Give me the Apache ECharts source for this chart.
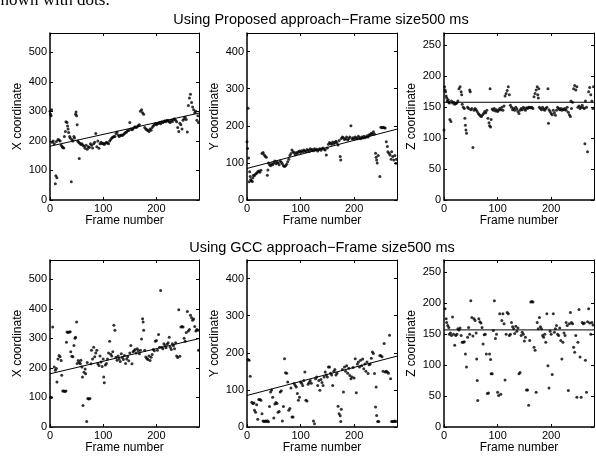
<!DOCTYPE html>
<html>
<head>
<meta charset="utf-8">
<script src="https://cdn.jsdelivr.net/npm/echarts@6/dist/echarts.min.js"></script>
<style>
html,body{margin:0;padding:0;background:#fff;}
#chart{width:596px;height:457px;}
</style>
</head>
<body>
<div id="chart"></div>
<script>
// ---------- data ----------
const titleTop = "Using Proposed approach\u2212Frame size500 ms";
const titleBottom = "Using GCC approach\u2212Frame size500 ms";
const yNames = ["X coordinate", "Y coordinate", "Z coordinate"];
const xName = "Frame number";
const frameMax = 280;
const frameStep = 100;
const yMaxes = [565, 450, 270];
const ySteps = [100, 100, 50];

// Proposed approach: [frame, value]
const propX = [[0,300],[1,290],[2,285],[3,305],[4,195],[6,200],[8,190],[10,55],[11,82],[13,75],[12,198],[15,205],[17,203],[19,200],[21,185],[23,180],[24,178],[26,176],[27,215],[29,232],[30,265],[32,262],[33,250],[34,240],[35,228],[37,215],[38,210],[40,62],[41,205],[43,200],[45,215],[46,210],[48,290],[49,298],[50,285],[51,255],[52,200],[54,195],[55,140],[56,192],[58,188],[60,190],[62,185],[64,182],[66,175],[68,185],[70,172],[72,180],[74,178],[76,190],[78,185],[80,176],[82,190],[84,195],[86,225],[88,180],[90,200],[92,175],[94,190],[96,195],[98,190],[100,192],[102,188],[104,192],[106,195],[108,193],[110,190],[112,200],[114,205],[116,210],[118,212],[120,215],[122,215],[124,225],[126,230],[128,220],[130,215],[132,218],[134,220],[136,218],[138,222],[140,225],[142,228],[144,230],[146,235],[148,235],[150,262],[152,240],[154,238],[156,240],[158,245],[160,248],[162,245],[164,248],[166,252],[168,255],[170,300],[172,305],[174,295],[176,290],[178,245],[180,240],[182,238],[184,235],[186,232],[188,240],[190,236],[192,245],[194,250],[196,255],[198,258],[200,255],[202,258],[204,260],[206,262],[208,258],[210,265],[212,262],[214,265],[216,268],[218,265],[220,270],[222,268],[224,265],[226,262],[228,270],[230,266],[232,272],[234,275],[236,270],[238,265],[240,245],[242,232],[244,260],[246,255],[248,240],[250,270],[252,275],[254,280],[256,272],[258,230],[260,320],[262,345],[264,358],[266,330],[268,315],[270,305],[272,295],[274,300],[276,270],[278,285],[279,262]];
const propY = [[0,157],[1,139],[2,247],[3,113],[4,49],[5,76],[6,63],[7,55],[8,52],[10,50],[11,60],[12,67],[14,66],[16,70],[18,72],[20,76],[22,78],[24,75],[26,80],[28,125],[30,128],[32,122],[34,118],[36,115],[38,67],[39,81],[40,100],[42,95],[44,92],[46,98],[48,95],[50,100],[52,105],[54,98],[56,102],[58,100],[60,95],[62,105],[64,102],[66,98],[68,92],[70,90],[72,92],[74,96],[76,103],[78,110],[80,120],[82,125],[84,135],[86,130],[88,127],[90,122],[92,128],[94,125],[96,130],[98,132],[100,128],[102,133],[104,130],[106,135],[108,132],[110,130],[112,136],[114,134],[116,131],[118,138],[120,135],[122,136],[124,133],[126,138],[128,135],[130,137],[132,132],[134,136],[136,138],[138,134],[140,138],[142,140],[144,137],[146,135],[148,121],[150,140],[152,150],[154,155],[156,152],[158,150],[160,156],[162,152],[164,155],[166,158],[168,154],[170,148],[172,160],[174,117],[175,108],[176,166],[178,170],[180,168],[182,163],[184,165],[186,170],[188,162],[190,166],[192,170],[194,200],[196,165],[198,168],[200,164],[202,170],[204,167],[206,165],[208,172],[210,168],[212,165],[214,170],[216,167],[218,172],[220,168],[222,170],[224,173],[226,170],[228,176],[230,175],[232,180],[234,178],[236,184],[238,178],[240,126],[241,115],[242,108],[243,100],[245,120],[248,63],[250,196],[252,195],[254,196],[256,195],[258,194],[260,157],[262,144],[263,130],[265,126],[267,121],[269,110],[270,130],[272,117],[274,108],[276,120],[278,99],[279,110]];
const propZ = [[0,113],[1,183],[2,178],[3,175],[4,168],[5,165],[6,160],[8,162],[9,158],[10,157],[11,130],[13,127],[14,160],[16,157],[18,158],[20,155],[22,156],[24,157],[26,160],[28,180],[30,183],[32,175],[33,170],[34,155],[36,150],[38,148],[39,132],[40,121],[41,113],[42,108],[44,150],[46,148],[48,178],[49,175],[50,146],[52,148],[54,85],[56,145],[58,148],[60,146],[62,143],[64,140],[66,138],[68,136],[70,135],[72,138],[74,140],[76,143],[78,141],[80,145],[82,132],[84,125],[85,120],[86,180],[87,118],[88,130],[90,147],[92,145],[94,148],[96,144],[98,146],[100,143],[102,145],[104,148],[106,146],[108,150],[110,145],[112,152],[114,168],[116,172],[118,177],[120,183],[122,170],[124,153],[126,150],[128,146],[130,148],[132,145],[134,150],[136,147],[138,143],[140,140],[142,145],[144,148],[146,146],[148,150],[150,148],[152,145],[154,149],[156,148],[158,150],[160,150],[162,149],[164,150],[166,148],[168,167],[170,172],[172,178],[174,183],[175,170],[176,165],[177,180],[178,150],[180,148],[182,146],[184,150],[186,147],[188,145],[190,148],[192,150],[194,180],[195,124],[196,146],[198,143],[200,140],[202,138],[204,145],[206,141],[208,137],[210,145],[212,150],[214,148],[216,146],[218,148],[220,145],[222,147],[224,146],[226,148],[228,145],[230,150],[232,142],[234,138],[236,135],[237,160],[238,148],[240,158],[242,180],[244,185],[246,178],[248,183],[250,150],[252,152],[254,148],[256,150],[258,153],[260,149],[262,148],[263,91],[264,160],[266,150],[268,78],[270,175],[272,182],[274,170],[276,160],[278,148],[279,183]];

// GCC approach: [frame, value]
const gccX = [[1,101],[3,100],[5,338],[8,203],[10,192],[12,198],[13,152],[15,230],[17,242],[19,238],[21,225],[22,175],[24,122],[26,122],[28,120],[30,122],[31,287],[32,321],[34,320],[36,321],[38,322],[39,255],[41,239],[43,238],[45,276],[47,300],[48,304],[50,355],[51,215],[53,225],[55,218],[57,214],[58,226],[60,203],[61,169],[62,73],[64,185],[66,196],[67,180],[69,19],[70,218],[71,96],[73,95],[75,96],[77,214],[78,260],[80,230],[82,270],[84,238],[86,250],[88,260],[90,214],[92,208],[94,240],[96,220],[98,205],[100,230],[101,169],[102,150],[104,210],[106,215],[108,230],[110,250],[112,290],[114,246],[116,240],[118,255],[120,344],[122,327],[124,236],[126,226],[128,240],[130,230],[132,222],[134,248],[136,235],[138,228],[140,242],[142,215],[144,230],[146,238],[148,224],[150,250],[152,276],[154,214],[156,255],[158,258],[160,262],[162,250],[164,265],[166,258],[168,248],[170,260],[172,298],[174,366],[175,355],[176,327],[178,260],[180,237],[182,232],[184,228],[186,240],[188,225],[190,236],[192,245],[194,262],[196,258],[198,290],[200,293],[202,260],[204,313],[206,270],[208,462],[210,270],[212,265],[214,282],[216,275],[218,268],[220,280],[222,285],[224,304],[226,270],[228,262],[230,282],[232,275],[234,265],[236,285],[238,240],[240,235],[242,397],[244,239],[246,338],[248,340],[250,338],[252,300],[254,290],[256,320],[258,391],[260,325],[262,330],[264,378],[266,370],[268,361],[270,365],[272,340],[274,325],[276,330],[278,327],[279,260]];
const gccY = [[2,182],[4,180],[6,137],[9,67],[11,63],[13,65],[14,45],[16,40],[18,60],[20,21],[22,74],[24,74],[26,72],[28,36],[30,16],[32,15],[34,16],[36,15],[38,17],[40,14],[42,55],[44,94],[46,100],[48,80],[50,24],[52,62],[54,66],[56,63],[58,40],[60,42],[62,94],[64,98],[66,16],[68,55],[70,184],[72,146],[74,145],[76,121],[78,45],[80,50],[82,105],[84,27],[86,27],[88,117],[90,112],[92,108],[94,90],[96,72],[98,80],[100,121],[102,118],[104,112],[106,125],[108,148],[110,72],[112,70],[114,115],[116,120],[118,125],[120,118],[124,16],[126,9],[128,130],[130,135],[132,112],[134,125],[136,99],[138,128],[140,120],[142,112],[144,135],[146,148],[148,140],[150,135],[152,162],[154,162],[156,145],[158,140],[160,112],[162,150],[164,155],[166,140],[168,145],[170,56],[172,36],[174,30],[175,15],[176,48],[178,155],[180,94],[182,162],[184,150],[186,165],[188,145],[190,158],[192,139],[194,130],[196,135],[198,160],[200,132],[202,184],[204,92],[206,170],[208,175],[210,162],[212,180],[214,165],[216,183],[218,157],[220,170],[222,150],[224,175],[226,144],[228,168],[230,170],[232,185],[234,202],[236,198],[238,144],[240,54],[241,108],[242,31],[244,15],[246,15],[248,193],[250,192],[252,189],[254,150],[256,225],[258,148],[260,150],[262,148],[264,145],[266,247],[268,130],[270,15],[272,15],[274,15],[276,16],[278,15]];
const gccZ = [[2,191],[4,175],[5,169],[7,164],[9,161],[10,150],[12,152],[14,148],[16,178],[18,150],[20,132],[22,148],[24,150],[26,159],[28,157],[30,160],[32,148],[34,137],[36,137],[38,138],[40,118],[42,97],[44,145],[46,161],[48,150],[50,204],[52,177],[54,147],[56,175],[58,172],[60,152],[61,110],[62,75],[63,43],[65,175],[67,170],[69,168],[71,161],[73,134],[75,149],[77,150],[79,118],[81,54],[83,55],[85,118],[87,109],[88,86],[90,86],[92,156],[94,204],[96,143],[98,150],[100,56],[102,51],[104,183],[106,53],[108,172],[110,183],[112,167],[114,76],[116,150],[118,185],[120,183],[122,148],[124,150],[126,169],[128,162],[130,159],[132,151],[134,163],[136,155],[138,160],[140,86],[142,88],[144,148],[146,153],[148,150],[150,139],[152,145],[154,60],[156,60],[158,35],[160,140],[162,202],[164,203],[166,202],[168,129],[170,124],[172,56],[174,169],[176,159],[178,177],[180,162],[182,159],[184,148],[186,145],[188,150],[190,137],[192,183],[194,99],[196,63],[198,155],[200,150],[202,85],[204,183],[206,153],[208,159],[210,164],[212,150],[214,148],[216,160],[218,140],[220,110],[222,137],[224,152],[226,148],[228,169],[230,164],[232,59],[234,167],[236,185],[238,169],[240,167],[242,129],[244,121],[246,148],[248,48],[250,137],[252,190],[254,113],[256,48],[258,169],[260,167],[262,168],[264,108],[266,56],[268,170],[270,191],[272,168],[274,150],[276,169],[278,165]];

// fitted lines: [frame, value] end points
const fitPropX = [[0,182],[280,294]];
const fitPropY = [[0,85],[280,191]];
const fitPropZ = [[0,158],[280,158]];
const fitGccX = [[0,180],[280,299]];
const fitGccY = [[0,85],[280,191]];
const fitGccZ = [[0,157],[280,157]];

// ---------- build chart ----------
const panels = [
  {pts: propX, fit: fitPropX, k: 0},
  {pts: propY, fit: fitPropY, k: 1},
  {pts: propZ, fit: fitPropZ, k: 2},
  {pts: gccX, fit: fitGccX, k: 0},
  {pts: gccY, fit: fitGccY, k: 1},
  {pts: gccZ, fit: fitGccZ, k: 2}
];
const lefts = [50, 247, 444];
const widths = [149, 150, 150];
const tops = [33, 260];
const FONT = "Liberation Sans, Arial, Helvetica, sans-serif";

const grid = [], xAxis = [], yAxis = [], series = [];
panels.forEach((p, i) => {
  const col = i % 3, row = Math.floor(i / 3);
  grid.push({left: lefts[col], top: tops[row], width: widths[col], height: 167, show: false, containLabel: false});
  const tick = {show: true, inside: true, length: 3, lineStyle: {color: '#000', width: 1}};
  const common = {type: 'value', gridIndex: i, min: 0, max: frameMax, interval: frameStep, splitLine: {show: false}};
  xAxis.push(Object.assign({}, common, {
    position: 'bottom',
    axisLine: {onZero: false, lineStyle: {color: '#000', width: 1.5}},
    axisTick: tick,
    axisLabel: {color: '#000', fontSize: 11, fontFamily: FONT, margin: 3, showMaxLabel: false},
    name: xName, nameLocation: 'middle', nameGap: 13,
    nameTextStyle: {color: '#000', fontSize: 12, fontFamily: FONT}
  }));
  xAxis.push(Object.assign({}, common, {
    position: 'top',
    axisLine: {onZero: false, lineStyle: {color: '#000', width: 1}},
    axisTick: tick, axisLabel: {show: false}
  }));
  const ycommon = {type: 'value', gridIndex: i, min: 0, max: yMaxes[p.k], interval: ySteps[p.k], splitLine: {show: false}};
  yAxis.push(Object.assign({}, ycommon, {
    position: 'left',
    axisLine: {onZero: false, lineStyle: {color: '#000', width: 1.5}},
    axisTick: tick,
    axisLabel: {color: '#000', fontSize: 11, fontFamily: FONT, margin: 3, showMaxLabel: false},
    name: yNames[p.k], nameLocation: 'middle', nameGap: 26, nameRotate: 90,
    nameTextStyle: {color: '#000', fontSize: 12, fontFamily: FONT}
  }));
  yAxis.push(Object.assign({}, ycommon, {
    position: 'right',
    axisLine: {onZero: false, lineStyle: {color: '#000', width: 1}},
    axisTick: tick, axisLabel: {show: false}
  }));
  series.push({
    type: 'scatter', xAxisIndex: 2 * i, yAxisIndex: 2 * i, data: p.pts,
    symbol: 'circle', symbolSize: 3, itemStyle: {color: '#000'}, silent: true, animation: false
  });
  series.push({
    type: 'line', xAxisIndex: 2 * i, yAxisIndex: 2 * i, data: p.fit,
    showSymbol: false, symbol: 'none', lineStyle: {color: '#000', width: 1}, silent: true, animation: false
  });
});

const chart = echarts.init(document.getElementById('chart'), null, {renderer: 'canvas'});
chart.setOption({
  animation: false,
  backgroundColor: '#fff',
  grid, xAxis, yAxis, series,
  graphic: [
    {type: 'text', left: -6, top: -8, style: {text: 'shown with dots.', font: '17px "Liberation Serif", "Times New Roman", serif', fill: '#000'}},
    {type: 'text', x: 321, y: 20, style: {text: titleTop, font: '14.5px ' + FONT, fill: '#000', textAlign: 'center', textVerticalAlign: 'middle'}},
    {type: 'text', x: 322, y: 248, style: {text: titleBottom, font: '14.5px ' + FONT, fill: '#000', textAlign: 'center', textVerticalAlign: 'middle'}}
  ]
});
</script>
</body>
</html>
